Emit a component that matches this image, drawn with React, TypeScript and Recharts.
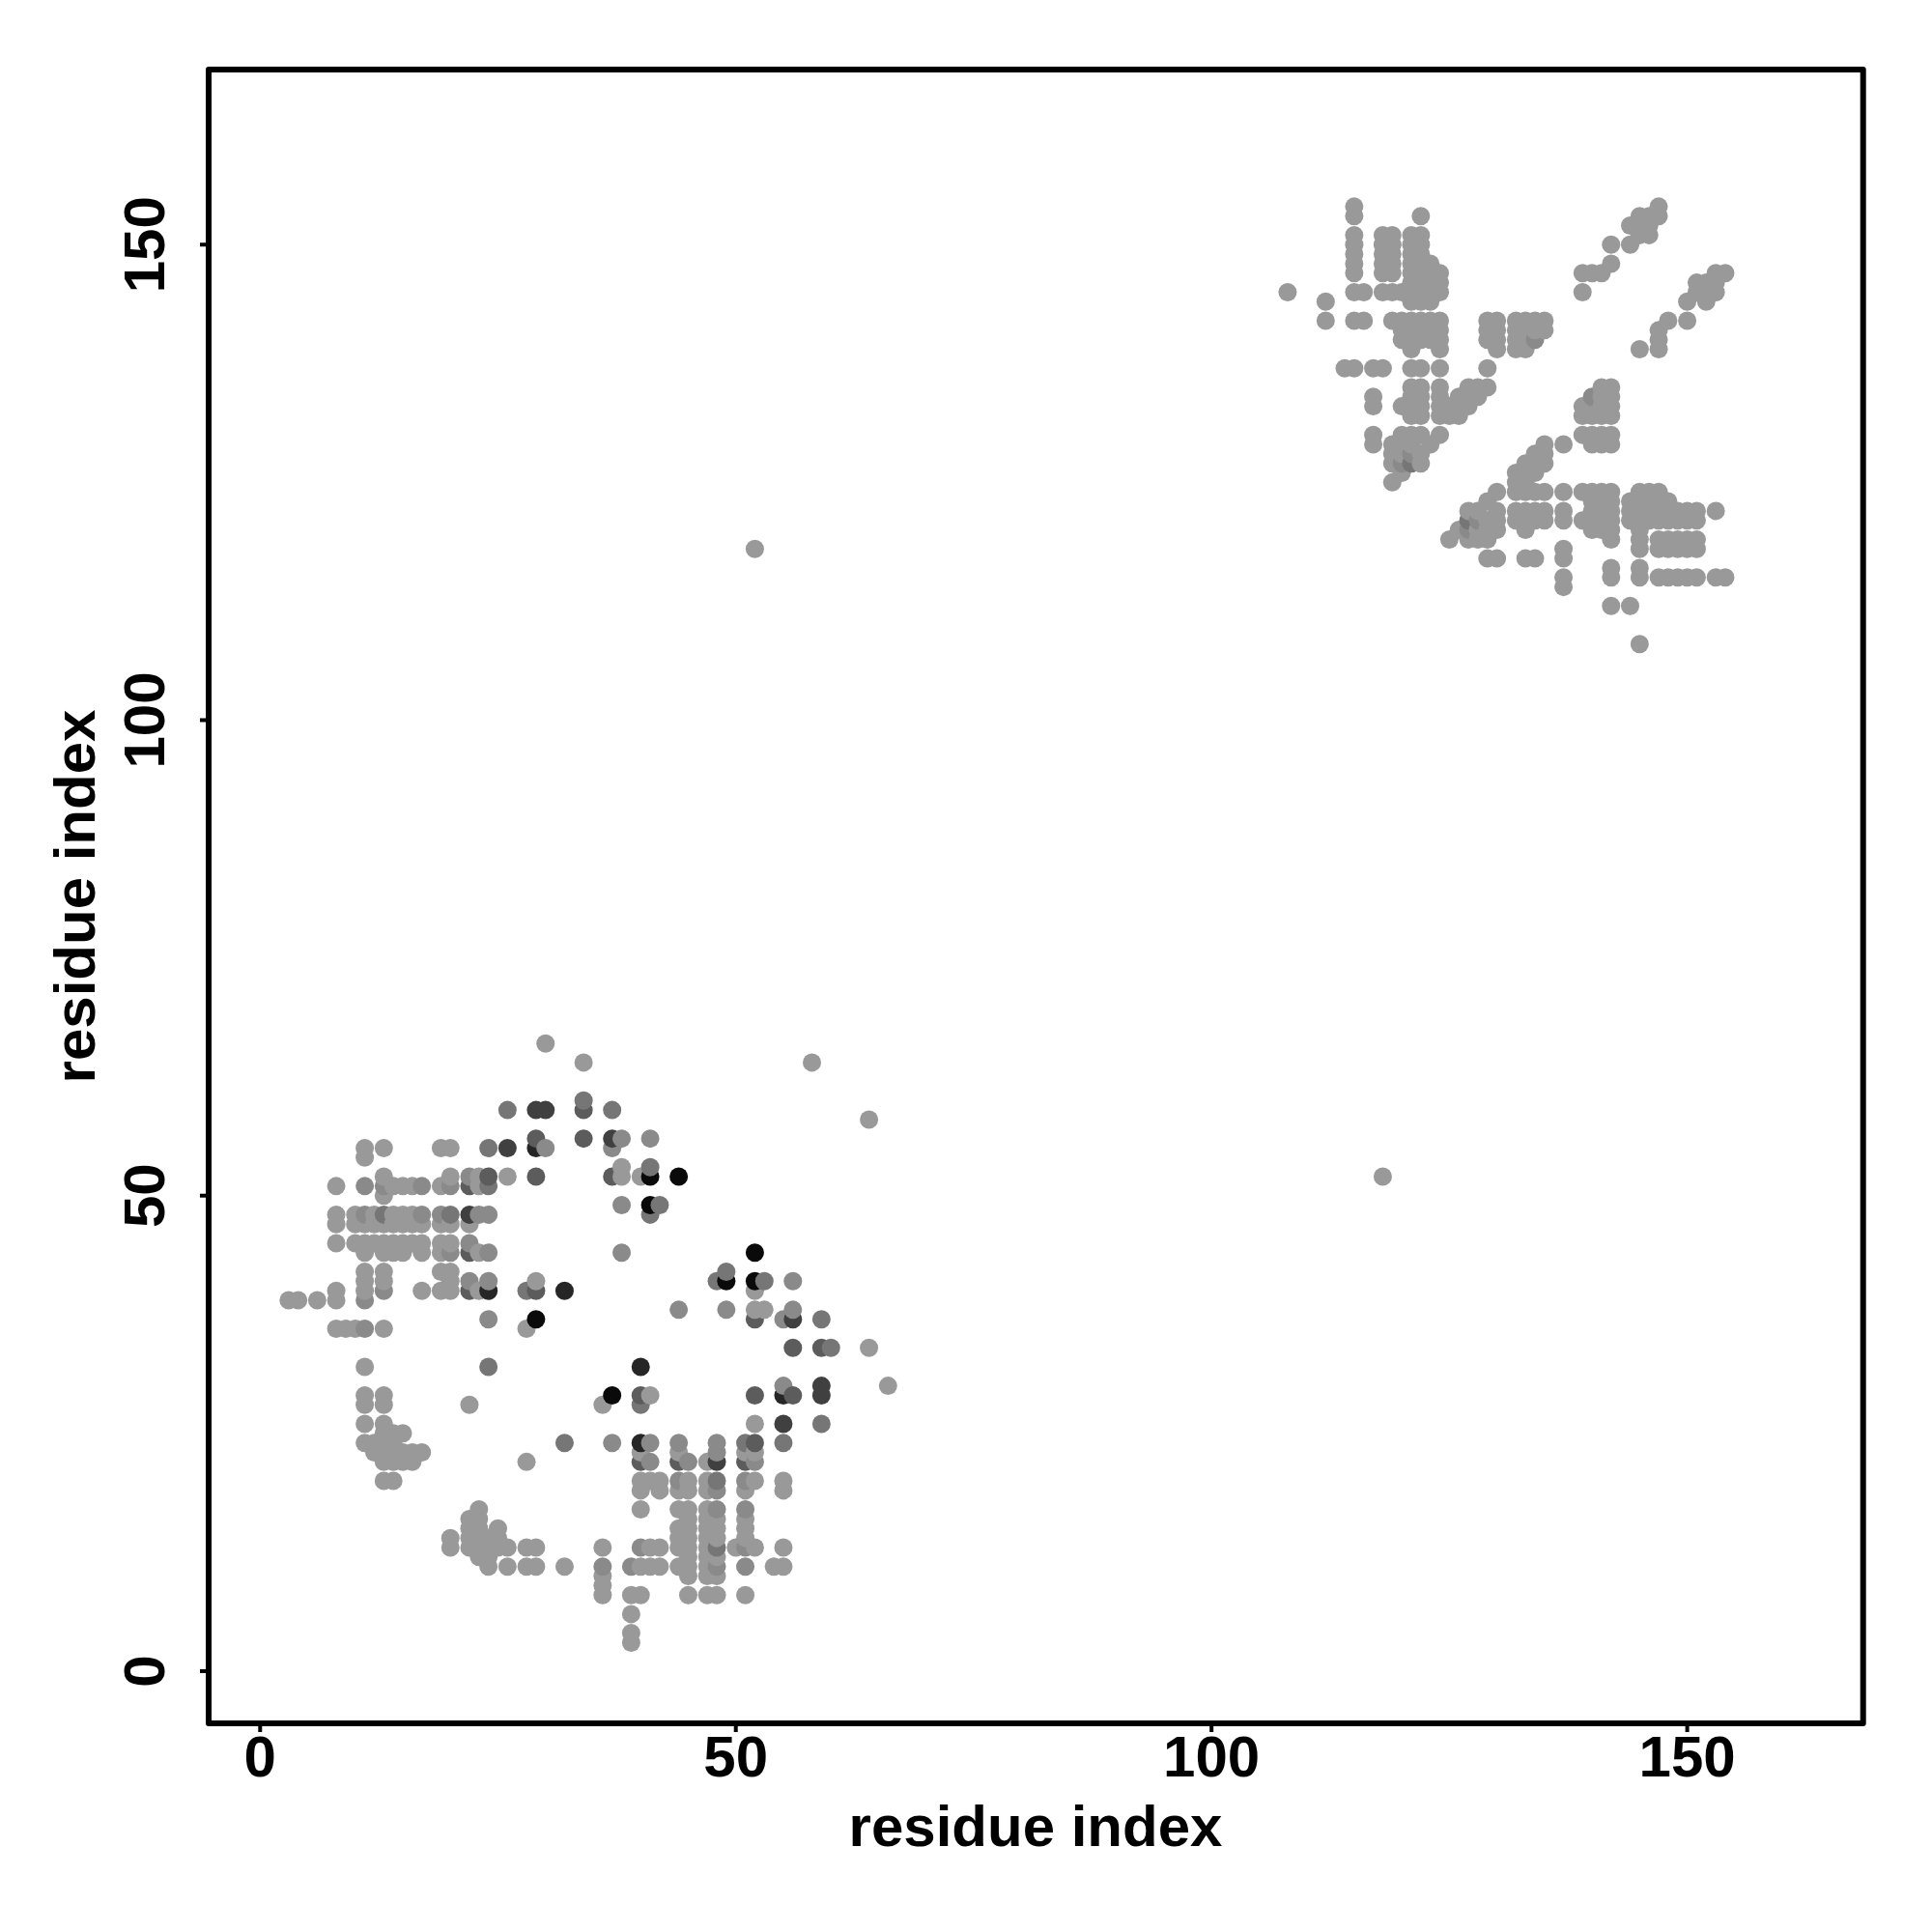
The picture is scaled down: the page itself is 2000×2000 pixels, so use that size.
import React from 'react';
import { ScatterChart, Scatter, XAxis, YAxis, ReferenceArea } from 'recharts';

// contact map is symmetric, so each list only holds i < j as [j, [i, ...]]
type ContactRow = [number, number[]];

const weakContacts: ContactRow[] = [
  [154, [115, 147]],
  [153, [115, 122, 145, 146, 147]],
  [152, [144, 145, 146]],
  [151, [115, 118, 119, 121, 122, 145, 146]],
  [150, [115, 118, 119, 121, 122, 142, 144]],
  [149, [115, 118, 119, 121, 122]],
  [148, [115, 118, 119, 121, 122, 123, 142]],
  [147, [115, 118, 119, 121, 122, 123, 124, 139, 140, 141]],
  [146, [121, 122, 123, 124]],
  [145, [108, 115, 116, 118, 119, 120, 121, 122, 123, 124, 139]],
  [144, [112, 121, 122, 123]],
  [142, [112, 115, 116, 119, 120, 121, 122, 123, 124, 129, 130, 132, 133, 134, 135]],
  [141, [120, 121, 122, 123, 124, 129, 130, 132, 133, 134, 135]],
  [140, [120, 121, 122, 123, 124, 129, 130, 132, 133]],
  [139, [121, 124, 130, 132, 133]],
  [137, [114, 115, 117, 118, 121, 122, 124, 129]],
  [135, [121, 122, 124, 127, 128, 129]],
  [134, [117, 121, 122, 124, 126, 127, 128]],
  [133, [117, 120, 121, 122, 124, 125, 126, 127]],
  [132, [121, 122, 124, 125, 126]],
  [130, [117, 120, 121, 122, 124]],
  [129, [117, 119, 120, 121, 123]],
  [128, [119, 120, 122]],
  [127, [119, 122]],
  [126, [120]],
  [125, [119]],
  [118, [52]],
  [66, [30]],
  [64, [34, 58]],
  [55, [11, 13, 19, 20]],
  [54, [11]],
  [53, [38]],
  [52, [13, 20, 23, 26, 38, 40]],
  [51, [8, 14, 15, 16, 19, 23]],
  [50, [13]],
  [48, [8, 10, 12, 14, 15, 16]],
  [47, [8, 10, 11, 12, 13, 14, 15, 16, 17, 19, 20, 22]],
  [45, [8, 10, 11, 12, 13, 14, 15, 16, 17, 19, 20]],
  [44, [11, 13, 14, 15, 17, 19, 23]],
  [42, [11, 13, 19, 20]],
  [41, [11, 13, 20, 29]],
  [40, [8, 11, 17, 19, 20, 23]],
  [39, [3, 4, 6, 8]],
  [36, [8, 9, 10, 13, 28]],
  [32, [11]],
  [29, [11, 13]],
  [28, [11, 13, 22]],
  [26, [11, 13]],
  [25, [13, 14, 15]],
  [24, [11, 12, 13, 14]],
  [23, [12, 13, 14, 15, 16, 17]],
  [22, [13, 14, 15, 16]],
  [20, [13, 14]],
];

const slightContacts: ContactRow[] = [
  [140, [134]],
  [128, [121]],
  [127, [120]],
  [56, [38, 41]],
  [55, [30, 37]],
  [52, [22]],
  [51, [11, 13, 17, 20]],
  [49, [38]],
  [48, [11, 17, 19, 23, 24]],
  [45, [22]],
  [44, [20, 24, 38]],
  [41, [22, 24]],
  [40, [13]],
  [39, [11]],
  [37, [24]],
  [36, [11]],
];

const moderateContacts: ContactRow[] = [
  [127, [121]],
  [60, [34]],
  [59, [26, 37]],
  [55, [24]],
  [53, [41]],
  [51, [24]],
  [49, [42]],
  [48, [13, 20, 41]],
  [40, [28]],
  [32, [24]],
];

const strongContacts: ContactRow[] = [
  [59, [34]],
  [56, [29, 34]],
  [52, [24, 29, 37]],
  [51, [22]],
  [44, [22]],
  [40, [22, 29]],
];

const heavyContacts: ContactRow[] = [
  [59, [29, 30]],
  [56, [37]],
  [55, [26]],
  [48, [22]],
];

const veryHeavyContacts: ContactRow[] = [
  [55, [29]],
  [40, [24, 32]],
];

const fullContacts: ContactRow[] = [
  [52, [41, 44]],
  [49, [41]],
  [37, [29]],
];

const contactLevels = [
  weakContacts,
  slightContacts,
  moderateContacts,
  strongContacts,
  heavyContacts,
  veryHeavyContacts,
  fullContacts,
];
const levelGreys = ['#999999', '#8a8a8a', '#767676', '#5c5c5c', '#404040', '#262626', '#0a0a0a'];

const axisTicks = [0, 50, 100, 150];
const axisTitle = 'residue index';

const points = contactLevels
  .flatMap((rows, level) =>
    rows.flatMap(([j, partners]) =>
      partners.flatMap((i) => [
        { x: i, y: j, level },
        { x: j, y: i, level },
      ])
    )
  )
  .sort((a, b) => a.x - b.x || a.y - b.y);

const FONT = '"Liberation Sans", Arial, sans-serif';
const X_DOMAIN: [number, number] = [-5.41, 168.49];
const Y_DOMAIN: [number, number] = [-5.49, 168.41];

const textProps = { fontFamily: FONT, fontWeight: 700, fontSize: 60, fill: '#000' };

const ContactDot = (props: any) => (
  <circle cx={props.cx} cy={props.cy} r={9.5} fill={levelGreys[props.payload.level]} />
);

const XTick = (props: any) => (
  <text x={props.x} y={1839} textAnchor="middle" {...textProps}>
    {props.payload.value}
  </text>
);

const YTick = (props: any) => (
  <text
    x={170}
    y={props.y}
    textAnchor="middle"
    transform={`rotate(-90, 170, ${props.y})`}
    {...textProps}
  >
    {props.payload.value}
  </text>
);

const XTitle = () => (
  <text x={1072} y={1911} textAnchor="middle" {...textProps}>
    {axisTitle}
  </text>
);

const YTitle = () => (
  <text x={98} y={928} textAnchor="middle" transform="rotate(-90, 98, 928)" {...textProps}>
    {axisTitle}
  </text>
);

export default function App() {
  return (
    <div style={{ position: 'absolute', left: 0, top: 0, background: '#fff' }}>
      <ScatterChart
        width={2000}
        height={2000}
        margin={{ top: 72, right: 71.3, bottom: 96, left: 96 }}
      >
        <XAxis
          type="number"
          dataKey="x"
          domain={X_DOMAIN}
          ticks={axisTicks}
          allowDataOverflow
          height={120}
          axisLine={false}
          tickSize={9}
          tickLine={{ stroke: '#000', strokeWidth: 4 }}
          tick={<XTick />}
          interval={0}
          label={<XTitle />}
        />
        <YAxis
          type="number"
          dataKey="y"
          domain={Y_DOMAIN}
          ticks={axisTicks}
          allowDataOverflow
          width={120}
          axisLine={false}
          tickSize={9}
          tickLine={{ stroke: '#000', strokeWidth: 4 }}
          tick={<YTick />}
          interval={0}
          label={<YTitle />}
        />
        <ReferenceArea
          x1={X_DOMAIN[0]}
          x2={X_DOMAIN[1]}
          y1={Y_DOMAIN[0]}
          y2={Y_DOMAIN[1]}
          fill="none"
          fillOpacity={0}
          stroke="#000"
          strokeWidth={6}
          strokeOpacity={1}
          strokeLinejoin="round"
        />
        <Scatter data={points} shape={ContactDot} isAnimationActive={false} />
      </ScatterChart>
    </div>
  );
}
